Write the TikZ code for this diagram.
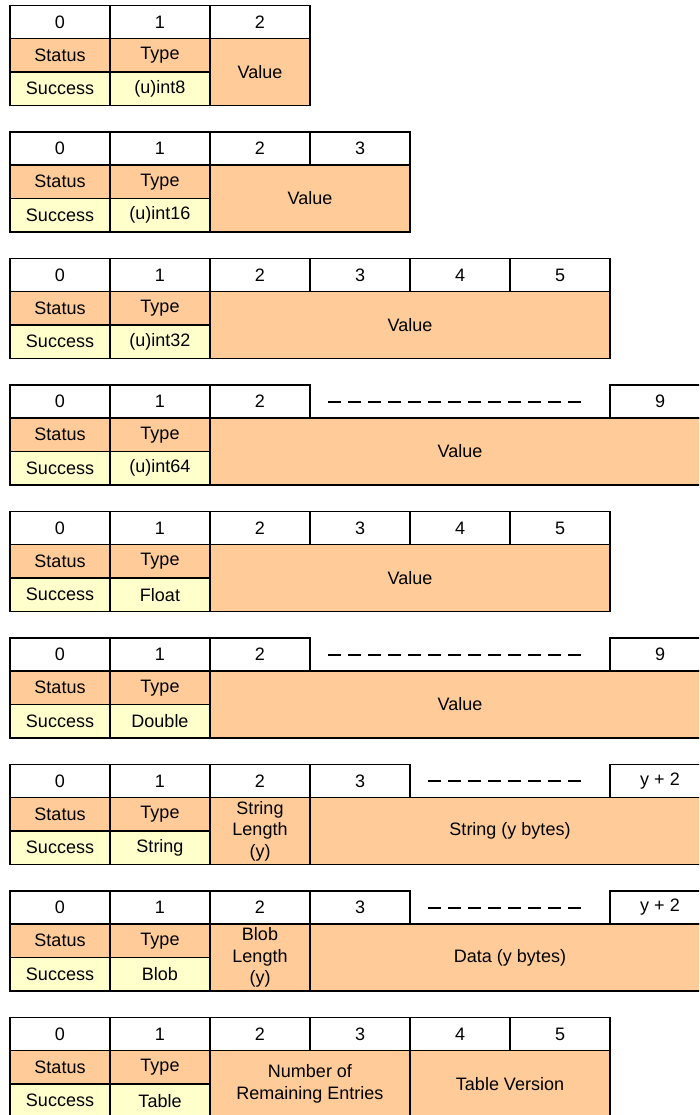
\documentclass[tikz,border=0pt]{standalone}
\usepackage{fontspec}
\setmainfont{Liberation Sans}
\usepackage{xcolor}
\usepackage{tikz}
\usetikzlibrary{positioning}

\definecolor{fieldorange}{HTML}{FFCC99}
\definecolor{codeyellow}{HTML}{FFFFCC}

\begin{document}
\begin{tikzpicture}[x=1pt, y=-1pt, every node/.style={font=\fontsize{18}{21.6}\selectfont}]
    \tikzstyle{cell} = [rectangle, draw=black, line width=1.3pt, inner sep=0pt, outer sep=0pt, anchor=north west, align=center]
    \tikzstyle{bytenum} = [cell, fill=white, minimum width=100pt, minimum height=33pt]
    \tikzstyle{field} = [cell, fill=fieldorange, minimum width=100pt, minimum height=33.5pt]
    \tikzstyle{code} = [cell, fill=codeyellow, minimum width=100pt, minimum height=33.5pt]
    \tikzstyle{value} = [cell, fill=fieldorange, minimum height=67pt]
    \tikzstyle{gap} = [dash pattern=on 13pt off 7pt, line width=2pt]

    \useasboundingbox (0,0) rectangle (699,1115);
    \clip (0,0) rectangle (699,1115);

    % left part shared by all frames
    \foreach \i/\kind in {1/(u)int8, 2/(u)int16, 3/(u)int32, 4/(u)int64, 5/Float, 6/Double, 7/String, 8/Blob, 9/Table} {
        \pgfmathsetmacro{\ytop}{5.5+126.5*(\i-1)}
        \node[bytenum] (b0-\i) at (10,\ytop) {0};
        \node[bytenum, right=0pt of b0-\i] (b1-\i) {1};
        \node[bytenum, right=0pt of b1-\i] (b2-\i) {2};
        \node[field, below=0pt of b0-\i] (status-\i) {Status};
        \node[field, below=0pt of b1-\i] (type-\i) {Type};
        \node[code, below=0pt of status-\i] (success-\i) {Success};
        \node[code, below=0pt of type-\i] (kind-\i) {\kind};
    }

    % (u)int8
    \node[value, minimum width=100pt] (val-1) at (b2-1.south west) {Value};

    % (u)int16
    \node[bytenum, right=0pt of b2-2] (b3-2) {3};
    \node[value, minimum width=200pt] (val-2) at (b2-2.south west) {Value};

    % (u)int32
    \node[bytenum, right=0pt of b2-3] (b3-3) {3};
    \node[bytenum, right=0pt of b3-3] (b4-3) {4};
    \node[bytenum, right=0pt of b4-3] (b5-3) {5};
    \node[value, minimum width=400pt] (val-3) at (b2-3.south west) {Value};

    % (u)int64
    \node[bytenum, right=300pt of b2-4] (b9-4) {9};
    \coordinate (gapl-4) at ([xshift=18pt]b2-4.east);
    \coordinate (gapr-4) at ([xshift=-25pt]b9-4.west);
    \draw[gap] (gapl-4) -- (gapr-4);
    \node[value, minimum width=500pt] (val-4) at (b2-4.south west) {Value};

    % Float
    \node[bytenum, right=0pt of b2-5] (b3-5) {3};
    \node[bytenum, right=0pt of b3-5] (b4-5) {4};
    \node[bytenum, right=0pt of b4-5] (b5-5) {5};
    \node[value, minimum width=400pt] (val-5) at (b2-5.south west) {Value};

    % Double
    \node[bytenum, right=300pt of b2-6] (b9-6) {9};
    \coordinate (gapl-6) at ([xshift=18pt]b2-6.east);
    \coordinate (gapr-6) at ([xshift=-25pt]b9-6.west);
    \draw[gap] (gapl-6) -- (gapr-6);
    \node[value, minimum width=500pt] (val-6) at (b2-6.south west) {Value};

    % String
    \node[bytenum, right=0pt of b2-7] (b3-7) {3};
    \node[bytenum, right=200pt of b3-7] (blast-7) {y + 2};
    \coordinate (gapl-7) at ([xshift=18pt]b3-7.east);
    \coordinate (gapr-7) at ([xshift=-28pt]blast-7.west);
    \draw[gap] (gapl-7) -- (gapr-7);
    \node[value, minimum width=100pt] (len-7) at (b2-7.south west) {String\\Length\\(y)};
    \node[value, minimum width=400pt] (data-7) at (len-7.north east) {String (y bytes)};

    % Blob
    \node[bytenum, right=0pt of b2-8] (b3-8) {3};
    \node[bytenum, right=200pt of b3-8] (blast-8) {y + 2};
    \coordinate (gapl-8) at ([xshift=18pt]b3-8.east);
    \coordinate (gapr-8) at ([xshift=-28pt]blast-8.west);
    \draw[gap] (gapl-8) -- (gapr-8);
    \node[value, minimum width=100pt] (len-8) at (b2-8.south west) {Blob\\Length\\(y)};
    \node[value, minimum width=400pt] (data-8) at (len-8.north east) {Data (y bytes)};

    % Table
    \node[bytenum, right=0pt of b2-9] (b3-9) {3};
    \node[bytenum, right=0pt of b3-9] (b4-9) {4};
    \node[bytenum, right=0pt of b4-9] (b5-9) {5};
    \node[value, minimum width=200pt] (entries-9) at (b2-9.south west) {Number of\\Remaining Entries};
    \node[value, minimum width=200pt] (version-9) at (entries-9.north east) {Table Version};
\end{tikzpicture}
\end{document}
